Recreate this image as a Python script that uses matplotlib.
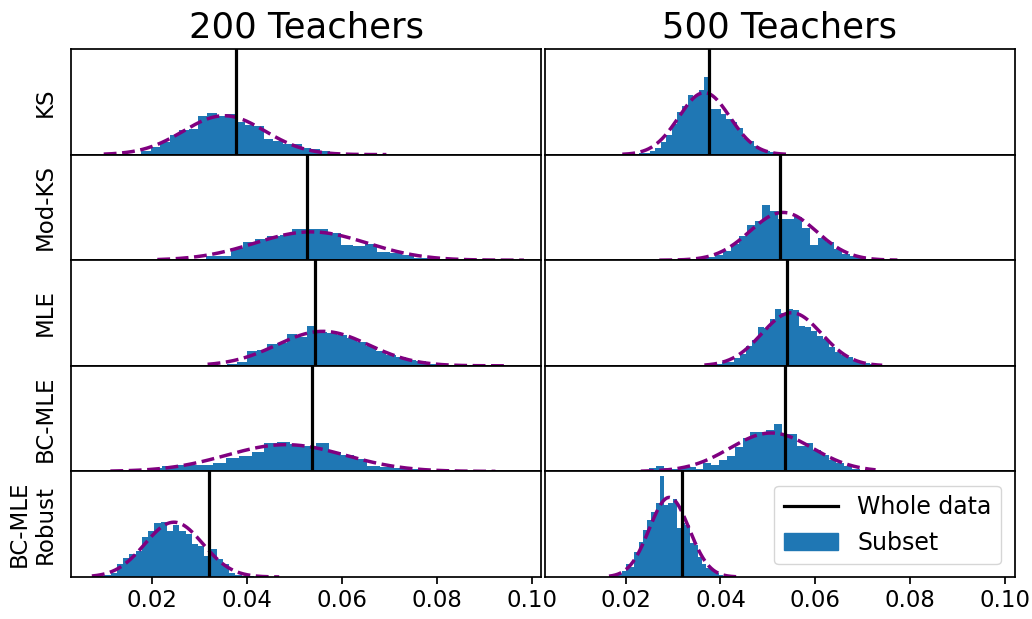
import numpy as np
import matplotlib
matplotlib.use('Agg')
import matplotlib.pyplot as plt
from matplotlib.lines import Line2D
from matplotlib.patches import Patch

methods = ['KS', 'Mod-KS', 'MLE', 'BC-MLE', 'BC-MLE\nRobust']
groups = ['200 Teachers', '500 Teachers']

# subset histograms: 30 bins between (lo, hi), heights as density
hist_range_200 = [(0.0098, 0.0694), (0.0211, 0.0984), (0.0317, 0.0945),
                  (0.0112, 0.0924), (0.0073, 0.0468)]
hist_range_500 = [(0.0193, 0.0539), (0.0271, 0.0773), (0.0366, 0.0741),
                  (0.0232, 0.0727), (0.0165, 0.0433)]

dens_200 = [
    [0.4, 0.4, 0.8, 1.2, 4.0, 9.6, 14.8, 23.6, 28.8, 30.4, 45.6, 49.6, 45.6, 48.0, 38.8,
     34.8, 33.6, 18.4, 16.8, 12.4, 12.4, 8.0, 6.4, 4.0, 2.4, 1.2, 0.8, 0.4, 0.4, 0.4],
    [0.4, 0.4, 0.8, 1.6, 4.8, 4.8, 14.4, 22.0, 25.2, 28.8, 29.6, 37.2, 37.6, 37.6, 32.0,
     18.4, 17.2, 19.2, 9.2, 8.4, 6.0, 3.2, 2.4, 1.6, 0.8, 0.4, 0.4, 0.4, 0.2, 0.2],
    [0.4, 0.8, 2.4, 4.8, 17.2, 19.2, 26.4, 27.6, 38.4, 34.4, 47.2, 40.4, 39.6, 36.4, 33.2,
     28.0, 23.2, 17.6, 12.4, 10.0, 7.2, 6.0, 2.4, 1.6, 1.2, 0.8, 0.4, 0.4, 0.4, 0.4],
    [0.4, 0.8, 1.6, 4.0, 6.8, 8.0, 7.2, 7.6, 9.6, 15.6, 18.4, 23.6, 33.6, 35.6, 32.8,
     30.4, 33.6, 22.8, 19.6, 14.8, 6.8, 4.8, 4.0, 2.4, 1.6, 0.8, 0.4, 0.4, 0.4, 0.4],
    [0.4, 1.2, 2.0, 4.8, 15.2, 23.2, 28.0, 31.2, 47.2, 55.2, 64.4, 65.2, 55.2, 62.0, 55.2,
     51.2, 39.2, 37.2, 25.2, 33.2, 21.2, 15.2, 5.2, 2.4, 1.2, 0.8, 0.4, 0.4, 0.2, 0.2],
]
dens_500 = [
    [0.4, 0.4, 0.8, 1.6, 2.4, 4.0, 8.0, 15.2, 23.2, 36.0, 50.8, 58.0, 71.2, 70.0, 76.8,
     92.8, 54.4, 54.4, 48.0, 42.0, 38.8, 32.0, 20.0, 16.0, 10.0, 7.2, 4.8, 2.8, 1.6, 0.8],
    [0.4, 0.4, 0.8, 1.2, 1.6, 2.8, 3.6, 6.0, 10.8, 18.8, 28.8, 42.0, 46.8, 65.6, 58.8,
     48.8, 48.8, 51.6, 38.8, 18.0, 26.0, 21.6, 12.8, 7.6, 4.8, 3.6, 1.6, 0.8, 0.4, 0.4],
    [0.4, 0.8, 1.6, 4.0, 4.8, 8.8, 14.4, 24.0, 31.2, 46.0, 44.8, 56.0, 67.2, 63.2, 67.2,
     66.0, 48.0, 46.8, 42.0, 36.0, 32.0, 22.0, 16.0, 12.8, 10.0, 7.2, 4.8, 3.2, 2.0, 2.0],
    [1.6, 4.0, 6.4, 4.0, 2.8, 4.8, 5.6, 2.8, 10.4, 7.6, 14.0, 18.8, 28.8, 40.0, 47.6,
     46.8, 49.6, 56.0, 44.8, 44.8, 30.8, 34.4, 25.6, 20.0, 13.6, 10.0, 6.8, 2.8, 1.6, 0.8],
    [0.8, 1.6, 3.2, 7.2, 16.0, 12.0, 30.0, 42.0, 56.0, 68.0, 77.2, 88.0, 120.0, 86.0, 88.0,
     92.8, 58.0, 64.0, 62.0, 40.0, 38.0, 24.0, 16.0, 11.2, 8.8, 4.8, 2.8, 1.2, 0.4, 0.4],
]

# normal fit to the subset (mean, sd)
fit_200 = [(0.0352, 0.0086), (0.0535, 0.0118), (0.0560, 0.0097), (0.0482, 0.0125), (0.0246, 0.0061)]
fit_500 = [(0.0366, 0.0054), (0.0532, 0.0070), (0.0550, 0.0063), (0.0507, 0.0087), (0.0292, 0.0042)]

# estimate on the whole data
whole_200 = [0.0376, 0.0526, 0.0544, 0.0537, 0.0320]
whole_500 = [0.0375, 0.0525, 0.0541, 0.0536, 0.0318]

ranges = [hist_range_200, hist_range_500]
dens = [dens_200, dens_500]
fits = [fit_200, fit_500]
whole = [whole_200, whole_500]

plt.rcParams['axes.linewidth'] = 1.25

fig, axes = plt.subplots(5, 2, figsize=(10.32, 6.19), dpi=100, sharex=True, sharey=True)
fig.subplots_adjust(left=71/1032, right=1015/1032, top=1-49/619, bottom=1-577/619,
                    wspace=0.0065, hspace=0)

for j in range(2):
    for i in range(5):
        ax = axes[i, j]
        lo, hi = ranges[j][i]
        edges = np.linspace(lo, hi, 31)
        ax.hist(edges[:-1], bins=edges, weights=dens[j][i], color='#1f77b4')
        mu, sd = fits[j][i]
        xs = np.linspace(lo, hi, 300)
        ys = np.exp(-0.5 * ((xs - mu) / sd) ** 2) / (sd * np.sqrt(2 * np.pi))
        ax.plot(xs, ys, '--', color='purple', lw=2.5)
        ax.axvline(whole[j][i], color='black', lw=2.3)
        ax.set_yticks([])
        if j == 0:
            ax.set_ylabel(methods[i], fontsize=16.5, labelpad=10)
        if i < 4:
            ax.tick_params(axis='x', bottom=False)
        else:
            ax.tick_params(axis='x', labelsize=16.5, length=5, width=1.25)
    axes[0, j].set_title(groups[j], fontsize=25.5, pad=8)

axes[0, 0].set_xlim(0.0029, 0.1021)
axes[0, 0].set_ylim(0, 126)
axes[4, 0].set_xticks([0.02, 0.04, 0.06, 0.08, 0.10])

handles = [Line2D([], [], color='black', lw=2.3), Patch(color='#1f77b4')]
axes[4, 1].legend(handles, ['Whole data', 'Subset'], loc='upper right', fontsize=17,
                  handlelength=2.3, borderaxespad=0.6)

plt.savefig('out.png', dpi=100)
